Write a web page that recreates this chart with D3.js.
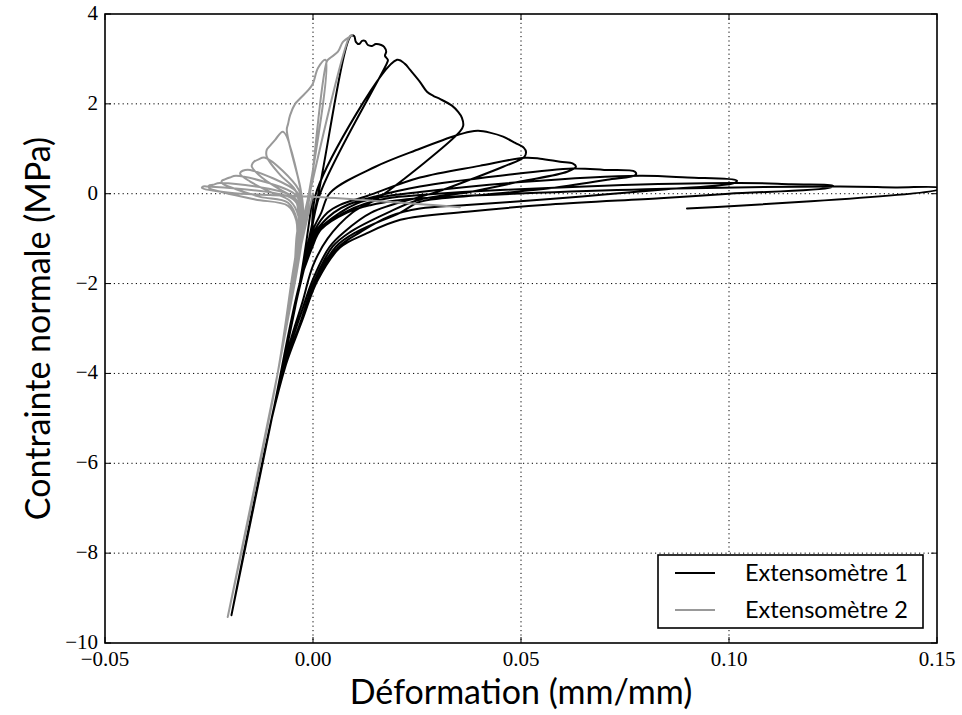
<!DOCTYPE html>
<html>
<head>
<meta charset="utf-8">
<script src="https://cdnjs.cloudflare.com/ajax/libs/d3/7.8.5/d3.min.js"></script>
<style>
body { margin: 0; background: #fff; }
</style>
</head>
<body>
<script>
// tick values
var xTicks = [-0.05, 0.00, 0.05, 0.10, 0.15];
var yTicks = [4, 2, 0, -2, -4, -6, -8, -10];

var seriesNames = ["Extensomètre 1", "Extensomètre 2"];

// Extensometre 1 : [strain, stress]
var ext1 = [
// compression then first tension peak
[0.0000, 0.00], [-0.0032, -2.0], [-0.0099, -5.0], [-0.0196, -9.38],
[-0.0099, -5.0], [-0.0032, -2.0], [0.0013, 0.0], [0.0091, 3.51],
// envelope 1
[0.0099, 3.51], [0.0103, 3.38], [0.0111, 3.33], [0.0118, 3.40], [0.0125, 3.40],
[0.0132, 3.31], [0.0142, 3.29], [0.0151, 3.33], [0.0164, 3.31], [0.0171, 3.27],
[0.0176, 3.16], [0.0173, 3.07], [0.0180, 2.98], [0.0178, 2.91],
// unload 1
[0.0017, 0.0], [-0.0012, -1.3], [-0.0040, -2.4], [-0.0099, -5.0], [-0.0196, -9.38],
// reload 2
[-0.0099, -5.0], [-0.0032, -2.0], [-0.0005, -0.9], [0.0010, 0.09], [0.0202, 2.98],
// envelope 2
[0.0221, 2.89], [0.0233, 2.76], [0.0257, 2.49], [0.0274, 2.27], [0.0289, 2.18],
[0.0305, 2.11], [0.0334, 1.96], [0.0349, 1.82], [0.0358, 1.69], [0.0361, 1.51], [0.0353, 1.38],
// unload 2
[0.0161, -0.07], [0.0095, -0.42], [0.0035, -1.0], [0.0000, -1.6], [-0.0025, -2.4],
[-0.0055, -3.3], [-0.0090, -4.6], [-0.0196, -9.38],
// reload 3
[-0.0099, -5.0], [-0.0032, -2.0], [-0.0012, -1.2], [0.0000, -0.8], [0.0020, -0.42],
[0.0041, 0.02], [0.0150, 0.60], [0.0257, 1.00], [0.0345, 1.30], [0.0377, 1.38],
// envelope 3
[0.0397, 1.40], [0.0425, 1.36], [0.0457, 1.27], [0.0486, 1.13], [0.0507, 1.02],
[0.0512, 0.93], [0.0508, 0.82],
// unload 3
[0.0457, 0.60], [0.0377, 0.31], [0.0298, 0.04], [0.0257, -0.07], [0.0140, -0.42],
[0.0075, -0.85], [0.0040, -1.18], [0.0000, -1.9], [-0.0030, -2.7], [-0.0065, -3.7],
[-0.0099, -5.0], [-0.0196, -9.38],
// reload 4
[-0.0099, -5.0], [-0.0032, -2.0], [-0.0010, -1.2], [0.0005, -0.8], [0.0035, -0.42],
[0.0065, -0.25], [0.0130, -0.05], [0.0257, 0.36], [0.0400, 0.62], [0.0510, 0.80],
// envelope 4
[0.0546, 0.78], [0.0594, 0.71], [0.0625, 0.67], [0.0632, 0.60],
// unload 4
[0.0611, 0.49], [0.0498, 0.27], [0.0377, 0.04], [0.0257, -0.13], [0.0180, -0.42],
[0.0090, -0.85], [0.0047, -1.18], [0.0003, -1.95], [-0.0028, -2.8], [-0.0065, -3.8],
[-0.0099, -5.0], [-0.0196, -9.38],
// reload 5
[-0.0099, -5.0], [-0.0032, -2.0], [-0.0008, -1.2], [0.0010, -0.8], [0.0050, -0.42],
[0.0085, -0.24], [0.0150, -0.06], [0.0257, 0.16], [0.0450, 0.40], [0.0625, 0.56],
// envelope 5
[0.0700, 0.53], [0.0774, 0.49], [0.0776, 0.42],
// unload 5
[0.0707, 0.31], [0.0577, 0.13], [0.0418, -0.02], [0.0257, -0.18], [0.0210, -0.42],
[0.0105, -0.85], [0.0055, -1.18], [0.0006, -1.95], [-0.0026, -2.8], [-0.0065, -3.8],
[-0.0099, -5.0], [-0.0196, -9.38],
// reload 6
[-0.0099, -5.0], [-0.0032, -2.0], [-0.0006, -1.2], [0.0014, -0.8], [0.0065, -0.42],
[0.0105, -0.22], [0.0160, -0.08], [0.0257, 0.04], [0.0500, 0.26], [0.0786, 0.40],
// envelope 6
[0.0900, 0.36], [0.1019, 0.29], [0.1014, 0.24],
// unload 6
[0.0850, 0.10], [0.0700, -0.02], [0.0570, -0.12], [0.0370, -0.25], [0.0257, -0.33],
[0.0185, -0.50], [0.0115, -0.85], [0.0060, -1.2], [0.0008, -1.95], [-0.0025, -2.8],
[-0.0065, -3.8], [-0.0099, -5.0], [-0.0196, -9.38],
// reload 7
[-0.0099, -5.0], [-0.0032, -2.0], [-0.0004, -1.2], [0.0017, -0.8], [0.0075, -0.42],
[0.0125, -0.22], [0.0180, -0.10], [0.0257, -0.03], [0.0700, 0.18], [0.1026, 0.24],
// envelope 7
[0.1150, 0.21], [0.1250, 0.18], [0.1245, 0.14],
// unload 7
[0.1000, 0.00], [0.0834, -0.10], [0.0570, -0.24], [0.0370, -0.40], [0.0210, -0.58],
[0.0125, -0.90], [0.0065, -1.20], [0.0010, -1.95], [-0.0025, -2.8], [-0.0065, -3.8],
[-0.0099, -5.0], [-0.0196, -9.38],
// reload 8
[-0.0099, -5.0], [-0.0032, -2.0], [-0.0002, -1.2], [0.0019, -0.8], [0.0082, -0.42],
[0.0140, -0.25], [0.0200, -0.15], [0.0257, -0.10], [0.0800, 0.10], [0.1267, 0.16],
// envelope 8 and last unload
[0.1400, 0.14], [0.1505, 0.13], [0.1505, 0.10], [0.0899, -0.33]
];

// Extensometre 2
var ext2 = [
// compression then first tension peak
[0.0000, 0.00], [-0.0048, -2.0], [-0.0085, -4.0], [-0.0205, -9.42], [-0.0085, -4.0],
[-0.0048, -2.0], [-0.0025, -0.8], [-0.0008, 0.0], [0.0089, 3.51],
// envelope 1
[0.0094, 3.53], [0.0072, 3.38], [0.0060, 3.16], [0.0041, 3.02], [0.0034, 2.96],
// unload 1
[-0.0007, 0.0], [-0.0022, -0.8], [-0.0042, -1.9], [-0.0085, -4.0], [-0.0205, -9.42],
// reload 2
[-0.0085, -4.0], [-0.0048, -2.0], [-0.0030, -0.8], [-0.0010, 0.0], [0.0030, 2.98],
// envelope 2
[0.0012, 2.80], [-0.0002, 2.42], [-0.0030, 2.13], [-0.0043, 2.00], [-0.0055, 1.75],
[-0.0060, 1.55], [-0.0063, 1.42],
// unload 2
[-0.0031, 0.16], [-0.0024, -0.3], [-0.0030, -1.0], [-0.0042, -1.8], [-0.0085, -4.0], [-0.0205, -9.42],
// reload 3
[-0.0085, -4.0], [-0.0048, -2.0], [-0.0035, -1.0], [-0.0026, -0.2], [-0.0030, 0.1], [-0.0072, 1.38],
// envelope 3
[-0.0091, 1.20], [-0.0103, 1.07], [-0.0111, 0.98], [-0.0111, 0.82],
// unload 3
[-0.0079, 0.42], [-0.0043, 0.09], [-0.0031, -0.3], [-0.0033, -1.0], [-0.0045, -1.8],
[-0.0085, -4.0], [-0.0205, -9.42],
// reload 4
[-0.0085, -4.0], [-0.0048, -2.0], [-0.0036, -1.0], [-0.0028, -0.2], [-0.0035, 0.1], [-0.0115, 0.80],
// envelope 4
[-0.0132, 0.76], [-0.0142, 0.71], [-0.0147, 0.64], [-0.0147, 0.60],
// unload 4
[-0.0123, 0.36], [-0.0079, 0.09], [-0.0043, -0.13], [-0.0033, -0.6], [-0.0035, -1.2],
[-0.0047, -1.9], [-0.0085, -4.0], [-0.0205, -9.42],
// reload 5
[-0.0085, -4.0], [-0.0048, -2.0], [-0.0037, -1.0], [-0.0029, -0.2], [-0.0040, 0.05], [-0.0151, 0.53],
// envelope 5
[-0.0163, 0.53], [-0.0173, 0.49], [-0.0175, 0.44],
// unload 5
[-0.0151, 0.27], [-0.0103, 0.04], [-0.0055, -0.16], [-0.0035, -0.5], [-0.0036, -1.2],
[-0.0049, -1.9], [-0.0085, -4.0], [-0.0205, -9.42],
// reload 6
[-0.0085, -4.0], [-0.0048, -2.0], [-0.0038, -1.0], [-0.0030, -0.25], [-0.0045, 0.0], [-0.0185, 0.40],
// envelope 6
[-0.0200, 0.36], [-0.0214, 0.31], [-0.0219, 0.29], [-0.0219, 0.24],
// unload 6
[-0.0188, 0.11], [-0.0127, -0.07], [-0.0060, -0.20], [-0.0038, -0.6], [-0.0038, -1.2],
[-0.0050, -1.9], [-0.0085, -4.0], [-0.0205, -9.42],
// reload 7
[-0.0085, -4.0], [-0.0048, -2.0], [-0.0039, -1.0], [-0.0032, -0.3], [-0.0050, -0.05], [-0.0224, 0.24],
// envelope 7
[-0.0240, 0.20], [-0.0250, 0.18], [-0.0250, 0.13],
// unload 7
[-0.0212, 0.02], [-0.0139, -0.13], [-0.0060, -0.27], [-0.0040, -0.6], [-0.0040, -1.2],
[-0.0051, -1.9], [-0.0085, -4.0], [-0.0205, -9.42],
// reload 8
[-0.0085, -4.0], [-0.0048, -2.0], [-0.0040, -1.0], [-0.0034, -0.3], [-0.0055, -0.08], [-0.0252, 0.16],
// envelope 8 and last unload
[-0.0264, 0.16], [-0.0267, 0.13], [-0.0200, 0.02], [-0.0103, -0.03], [0.0000, -0.07], [0.0353, -0.30]
];

var colors = ["#000000", "#999999"];

//size and plot box
var w = 962;
var h = 715;
var padL = 105, padR = 937, padT = 14, padB = 643;

var x = d3.scaleLinear().domain([-0.05, 0.15]).range([padL, padR]);
var y = d3.scaleLinear().domain([-10, 4]).range([padB, padT]);

var svg = d3.select("body")
.append("svg")
.attr("width", w)
.attr("height", h);

svg.append("defs").append("clipPath")
.attr("id", "plotclip")
.append("rect")
.attr("x", padL)
.attr("y", padT)
.attr("width", padR - padL)
.attr("height", padB - padT);

// dotted grid
svg.selectAll("line.gx")
.data(xTicks.slice(1, -1))
.enter()
.append("line")
.attr("class", "gx")
.attr("x1", function(d) { return x(d); })
.attr("x2", function(d) { return x(d); })
.attr("y1", padT)
.attr("y2", padB)
.attr("stroke", "#000")
.attr("stroke-width", 1)
.attr("stroke-dasharray", "1.2,3.2");

svg.selectAll("line.gy")
.data(yTicks.slice(1, -1))
.enter()
.append("line")
.attr("class", "gy")
.attr("x1", padL)
.attr("x2", padR)
.attr("y1", function(d) { return y(d); })
.attr("y2", function(d) { return y(d); })
.attr("stroke", "#000")
.attr("stroke-width", 1)
.attr("stroke-dasharray", "1.2,3.2");

// curves (centripetal catmull-rom so the loops look like measured data)
var line = d3.line()
.curve(d3.curveCatmullRom.alpha(0.5))
.x(function(d) { return x(d[0]); })
.y(function(d) { return y(d[1]); });

var plot = svg.append("g").attr("clip-path", "url(#plotclip)");

[ext1, ext2].forEach(function(s, i) {
  plot.append("path")
  .attr("d", line(s))
  .attr("fill", "none")
  .attr("stroke", colors[i])
  .attr("stroke-width", 2)
  .attr("stroke-linejoin", "round")
  .attr("stroke-linecap", "round");
});

// ticks on all four sides, pointing in
var tk = 6;
xTicks.forEach(function(d) {
  svg.append("line").attr("x1", x(d)).attr("x2", x(d)).attr("y1", padB).attr("y2", padB - tk).attr("stroke", "#000");
  svg.append("line").attr("x1", x(d)).attr("x2", x(d)).attr("y1", padT).attr("y2", padT + tk).attr("stroke", "#000");
});
yTicks.forEach(function(d) {
  svg.append("line").attr("x1", padL).attr("x2", padL + tk).attr("y1", y(d)).attr("y2", y(d)).attr("stroke", "#000");
  svg.append("line").attr("x1", padR).attr("x2", padR - tk).attr("y1", y(d)).attr("y2", y(d)).attr("stroke", "#000");
});

// frame
svg.append("rect")
.attr("x", padL)
.attr("y", padT)
.attr("width", padR - padL)
.attr("height", padB - padT)
.attr("fill", "none")
.attr("stroke", "#000")
.attr("stroke-width", 1.6);

// tick labels
function minus(s) { return s.replace("-", "\u2212"); }

svg.selectAll("text.xl")
.data(xTicks)
.enter()
.append("text")
.attr("class", "xl")
.text(function(d) { return minus(d.toFixed(2)); })
.attr("x", function(d) { return x(d); })
.attr("y", padB + 23)
.attr("text-anchor", "middle")
.attr("font-family", "Liberation Serif, serif")
.attr("font-size", "21px");

svg.selectAll("text.yl")
.data(yTicks)
.enter()
.append("text")
.attr("class", "yl")
.text(function(d) { return minus(String(d)); })
.attr("x", padL - 7)
.attr("y", function(d) { return y(d) + 6; })
.attr("text-anchor", "end")
.attr("font-family", "Liberation Serif, serif")
.attr("font-size", "21px");

// axis titles
svg.append("text")
.text("Déformation (mm/mm)")
.attr("x", (padL + padR) / 2)
.attr("y", 704)
.attr("text-anchor", "middle")
.attr("font-family", "Lato, sans-serif")
.attr("font-size", "34px");

svg.append("text")
.text("Contrainte normale (MPa)")
.attr("transform", "translate(50," + ((padT + padB) / 2) + ") rotate(-90)")
.attr("text-anchor", "middle")
.attr("font-family", "Lato, sans-serif")
.attr("font-size", "34px");

// legend
var lg = svg.append("g");
lg.append("rect")
.attr("x", 658)
.attr("y", 555)
.attr("width", 265)
.attr("height", 73)
.attr("fill", "#fff")
.attr("stroke", "#000")
.attr("stroke-width", 1.6);

seriesNames.forEach(function(name, i) {
  var ly = 573 + i * 37;
  lg.append("line")
  .attr("x1", 675).attr("x2", 715)
  .attr("y1", ly).attr("y2", ly)
  .attr("stroke", colors[i])
  .attr("stroke-width", 2);
  lg.append("text")
  .text(name)
  .attr("x", 745)
  .attr("y", ly + 8)
  .attr("font-family", "Lato, sans-serif")
  .attr("font-size", "23.5px");
});
</script>
</body>
</html>
